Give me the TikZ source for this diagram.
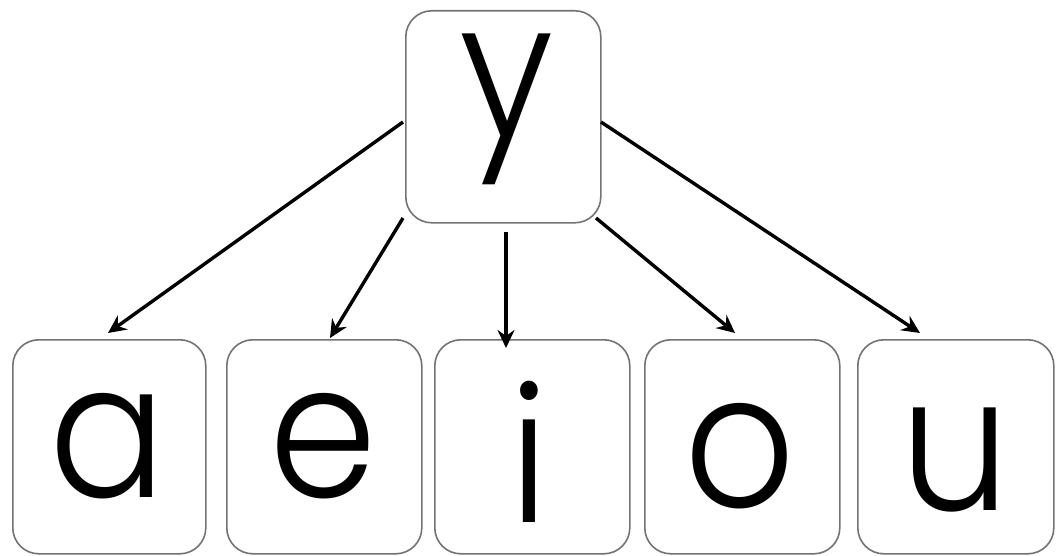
\documentclass[tikz,border=0pt]{standalone}
\usepackage{fontspec}
\newfontfamily\pop{Poppins}[UprightFont=* Light,FakeStretch=0.92]
\usetikzlibrary{arrows.meta}
\begin{document}
\begin{tikzpicture}[x=1pt,y=-1pt,
  card/.style={draw=black!55,line width=1.6pt,rounded corners=26pt,anchor=north west,inner sep=0pt},
  letter/.style={anchor=base,inner sep=0pt,font=\pop\fontsize{188}{190}\selectfont},
  arr/.style={line width=3.4pt,-{Stealth[length=18pt,width=17pt,inset=6pt]}}]
\useasboundingbox (0,0) rectangle (1056,556);
% boxes
\node[card,minimum width=195pt,minimum height=212pt] (ybox) at (405,10) {};
\node[card,minimum width=193pt,minimum height=214pt] (abox) at (12,339) {};
\node[card,minimum width=195pt,minimum height=214pt] (ebox) at (226,339) {};
\node[card,minimum width=195pt,minimum height=214pt] (ibox) at (434,339) {};
\node[card,minimum width=195pt,minimum height=214pt] (obox) at (644,339) {};
\node[card,minimum width=196pt,minimum height=214pt] (ubox) at (857,339) {};
% letters
\node[letter] (ty) at (507,137) {y};
\node[letter] (ta) at (108,497) {a};
\node[letter] (te) at (323,497) {e};
\node[letter] (ti) at (529,522) {i};
\node[letter] (to) at (740,507) {o};
\node[letter] (tu) at (955,510) {u};
% arrow endpoints
\coordinate (s1) at (403,122);
\coordinate (s2) at (403,218);
\coordinate (s3) at (506,232);
\coordinate (s4) at (596,218);
\coordinate (s5) at (601,122);
\coordinate (e1) at (108,333);
\coordinate (e2) at (330,338);
\coordinate (e3) at (506,348);
\coordinate (e4) at (735,333);
\coordinate (e5) at (920,333);
\draw[arr] (s1) -- (e1);
\draw[arr] (s2) -- (e2);
\draw[arr] (s3) -- (e3);
\draw[arr] (s4) -- (e4);
\draw[arr] (s5) -- (e5);
\end{tikzpicture}
\end{document}
